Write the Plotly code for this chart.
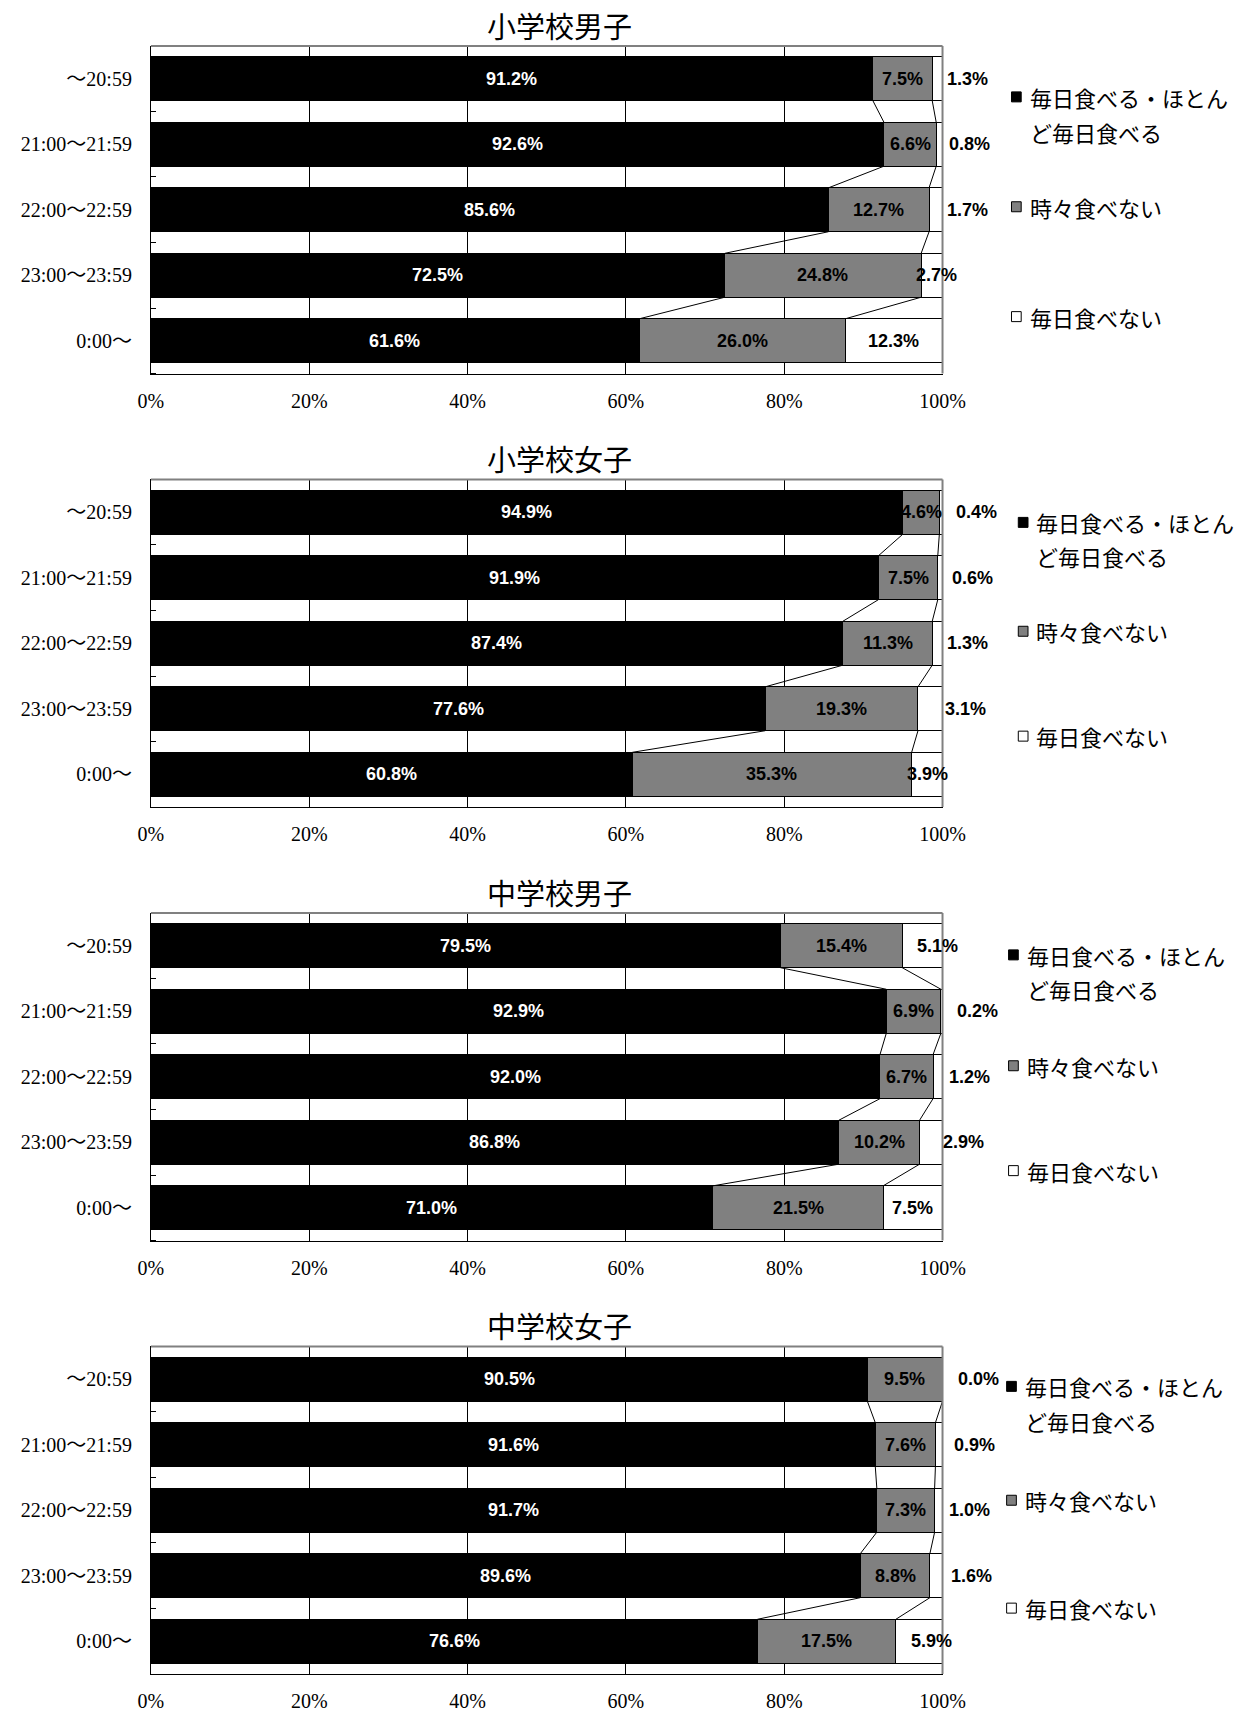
import plotly.graph_objects as go

# ---------------- data ----------------
categories = ["～20:59", "21:00～21:59", "22:00～22:59", "23:00～23:59", "0:00～"]
panel_titles = ["小学校男子", "小学校女子", "中学校男子", "中学校女子"]
series_names = ["毎日食べる・ほとんど毎日食べる", "時々食べない", "毎日食べない"]
x_tick_values = [0, 20, 40, 60, 80, 100]
x_tick_labels = ["0%", "20%", "40%", "60%", "80%", "100%"]

elem_boys_every = [91.2, 92.6, 85.6, 72.5, 61.6]
elem_boys_some = [7.5, 6.6, 12.7, 24.8, 26.0]
elem_boys_never = [1.3, 0.8, 1.7, 2.7, 12.3]

elem_girls_every = [94.9, 91.9, 87.4, 77.6, 60.8]
elem_girls_some = [4.6, 7.5, 11.3, 19.3, 35.3]
elem_girls_never = [0.4, 0.6, 1.3, 3.1, 3.9]

jhs_boys_every = [79.5, 92.9, 92.0, 86.8, 71.0]
jhs_boys_some = [15.4, 6.9, 6.7, 10.2, 21.5]
jhs_boys_never = [5.1, 0.2, 1.2, 2.9, 7.5]

jhs_girls_every = [90.5, 91.6, 91.7, 89.6, 76.6]
jhs_girls_some = [9.5, 7.6, 7.3, 8.8, 17.5]
jhs_girls_never = [0.0, 0.9, 1.0, 1.6, 5.9]

panels = [
    (elem_boys_every, elem_boys_some, elem_boys_never),
    (elem_girls_every, elem_girls_some, elem_girls_never),
    (jhs_boys_every, jhs_boys_some, jhs_boys_never),
    (jhs_girls_every, jhs_girls_some, jhs_girls_never),
]

# ---------------- style ----------------
W, H = 1254, 1712
BLACK, GRAY, WHITE = "#000000", "#808080", "#ffffff"
seg_colors = [BLACK, GRAY, WHITE]
label_colors = [WHITE, BLACK, BLACK]
LABEL_FONT = "Liberation Sans, Arial, sans-serif"
SERIF = "Liberation Serif, Noto Sans CJK JP, serif"
CJK = "Noto Sans CJK JP, sans-serif"
# placement of the "毎日食べない" labels: (outside bar?, pixel shift)
white_label_place = [
    [(True, 25), (True, 27), (True, 25), (False, 5), (False, 0)],
    [(True, 34), (True, 30), (True, 25), (True, 23), (False, 0)],
    [(False, 15), (True, 35), (True, 27), (True, 21), (False, 0)],
    [(True, 36), (True, 32), (True, 27), (True, 29), (False, 12)],
]
legend_lines = [["毎日食べる・ほとん", "ど毎日食べる"], ["時々食べない"], ["毎日食べない"]]
# legend per panel: square left x, text left x, line offsets below panel top (px)
legend_place = [
    (1028, 1045, [51, 86, 161, 271]),
    (1035, 1051, [43, 77, 152, 257]),
    (1025, 1042, [42, 76, 153, 258]),
    (1023, 1040, [40, 75, 154, 262]),
]

X0, X1 = 142, 957          # plot area left/right (px)
TOP0, PH, STEP = 46, 328, 434  # first panel top, panel height, panel step (px)
BAR_W = 0.67


def px_y(p):
    return 1 - p / H


def px_x(p):
    return p / W


fig = go.Figure()
annotations = []
shapes = []
layout_axes = {}

for k, (every, some, never) in enumerate(panels):
    xa = "x" if k == 0 else f"x{k + 1}"
    ya = "y" if k == 0 else f"y{k + 1}"
    xname = "xaxis" if k == 0 else f"xaxis{k + 1}"
    yname = "yaxis" if k == 0 else f"yaxis{k + 1}"
    top = TOP0 + STEP * k
    bottom = top + PH
    ypos = list(range(len(categories)))

    for s, vals in enumerate((every, some, never)):
        fig.add_trace(go.Bar(
            x=vals, y=ypos, orientation="h", name=series_names[s],
            marker=dict(color=seg_colors[s], line=dict(color=BLACK, width=1)),
            width=BAR_W, xaxis=xa, yaxis=ya, showlegend=False,
            hovertemplate="%{x}%<extra>" + series_names[s] + "</extra>",
        ))

    # normalised cumulative ends (100% stacked)
    tot = [a + b + c for a, b, c in zip(every, some, never)]
    c1 = [a / t * 100 for a, t in zip(every, tot)]
    c2 = [(a + b) / t * 100 for a, b, t in zip(every, some, tot)]

    # series (connector) lines
    lx, ly = [], []
    for i in range(len(categories) - 1):
        for c in (c1, c2):
            lx += [c[i], c[i + 1], None]
            ly += [i + BAR_W / 2, i + 1 - BAR_W / 2, None]
    fig.add_trace(go.Scatter(x=lx, y=ly, mode="lines", line=dict(color=BLACK, width=1),
                             xaxis=xa, yaxis=ya, showlegend=False, hoverinfo="skip"))

    # data labels
    for i in range(len(categories)):
        segs = [(0, c1[i], every[i]), (c1[i], c2[i], some[i]), (c2[i], 100, never[i])]
        for s, (a, b, v) in enumerate(segs):
            ann = dict(xref=xa, yref=ya, x=(a + b) / 2, y=i, text=f"{v:.1f}%",
                       showarrow=False, xanchor="center", yanchor="middle",
                       font=dict(family=LABEL_FONT, size=18, color=label_colors[s], weight="bold"))
            if s == 2:
                outside, shift = white_label_place[k][i]
                if outside:
                    ann["x"] = 100
                ann["xshift"] = shift
            annotations.append(ann)

    # title
    annotations.append(dict(xref="paper", yref="paper", x=px_x(563), y=px_y(top - 21),
                            text=panel_titles[k], showarrow=False, xanchor="center",
                            yanchor="middle", font=dict(family=CJK, size=29, color=BLACK)))

    # frame top/right (gray)
    shapes.append(dict(type="line", xref=f"{xa} domain", yref=f"{ya} domain",
                       x0=0, x1=1, y0=1, y1=1, line=dict(color=GRAY, width=2), layer="above"))
    shapes.append(dict(type="line", xref=f"{xa} domain", yref=f"{ya} domain",
                       x0=1, x1=1, y0=0, y1=1, line=dict(color=GRAY, width=2), layer="above"))

    # legend (squares + text)
    sq_x, tx_x, offs = legend_place[k]
    line_offsets = [[offs[0], offs[1]], [offs[2]], [offs[3]]]
    for s in range(3):
        yc = top + line_offsets[s][0]
        shapes.append(dict(type="rect", xref="paper", yref="paper",
                           x0=px_x(sq_x), x1=px_x(sq_x + 10), y0=px_y(yc + 5), y1=px_y(yc - 5),
                           fillcolor=seg_colors[s], line=dict(color=BLACK, width=1)))
        for j, line in enumerate(legend_lines[s]):
            annotations.append(dict(xref="paper", yref="paper", x=px_x(tx_x),
                                    y=px_y(top + line_offsets[s][j]), text=line, showarrow=False,
                                    xanchor="left", yanchor="middle",
                                    font=dict(family=CJK, size=22, color=BLACK)))

    layout_axes[xname] = dict(
        domain=[px_x(X0), px_x(X1)], range=[0, 100], anchor=ya,
        tickmode="array", tickvals=x_tick_values, ticktext=x_tick_labels,
        showgrid=False, zeroline=False, showline=True, linecolor=BLACK, linewidth=1,
        ticks="", ticklabelstandoff=9, tickfont=dict(family=SERIF, size=20, color=BLACK),
        minor=dict(tickmode="array", tickvals=x_tick_values[1:-1], showgrid=True,
                   gridcolor=BLACK, gridwidth=1, ticks=""),
        fixedrange=True,
    )
    layout_axes[yname] = dict(
        domain=[px_y(bottom), px_y(top)], range=[len(categories) - 0.5, -0.5], anchor=xa,
        tickmode="array", tickvals=ypos, ticktext=categories,
        showgrid=False, zeroline=False, showline=True, linecolor=BLACK, linewidth=1,
        ticks="", ticklabelstandoff=14, tickfont=dict(family=SERIF, size=20, color=BLACK),
        minor=dict(tickmode="array", tickvals=[j - 0.5 for j in range(len(categories) + 1)],
                   ticks="inside", ticklen=5, tickcolor=BLACK, tickwidth=1, showgrid=False),
        fixedrange=True,
    )

fig.update_layout(
    width=W, height=H, margin=dict(l=0, r=0, t=0, b=0),
    barmode="stack", barnorm="percent",
    paper_bgcolor=WHITE, plot_bgcolor=WHITE,
    annotations=annotations, shapes=shapes, showlegend=False,
    **layout_axes,
)

fig.write_html("out.html", config={"displayModeBar": False},
               post_script="document.body.style.margin='0';")
